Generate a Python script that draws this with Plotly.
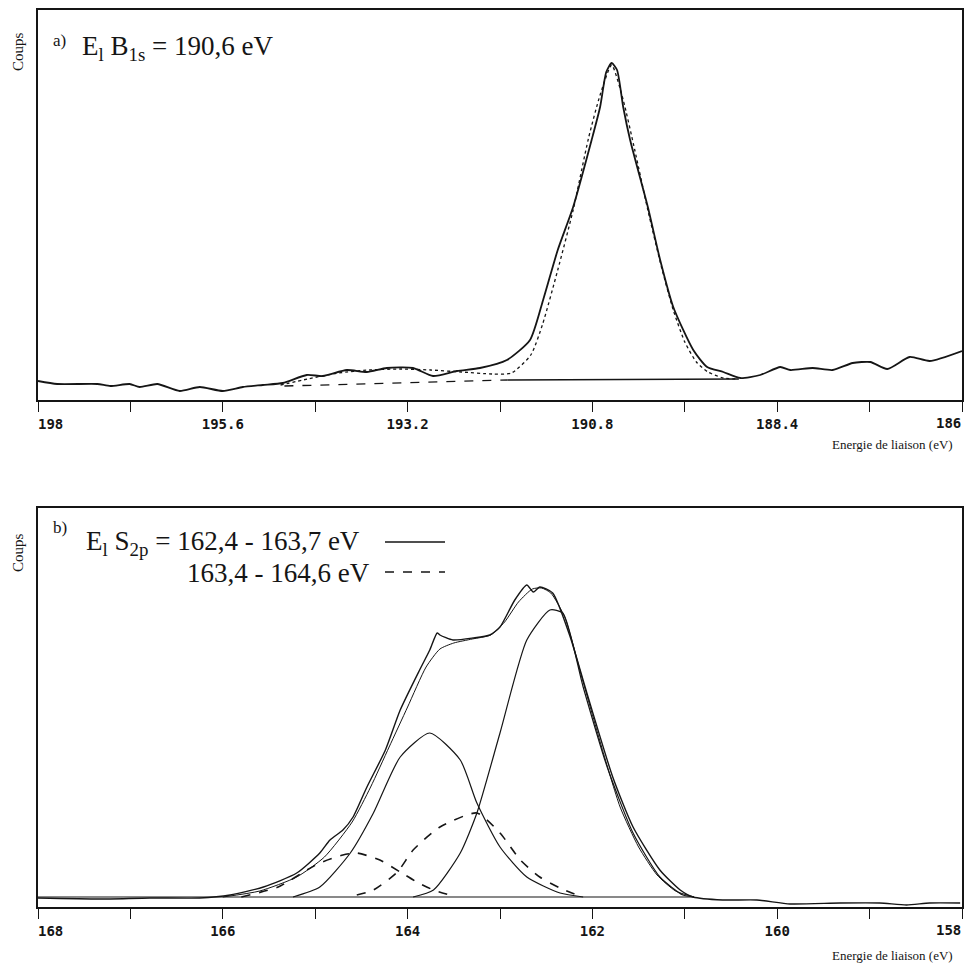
import plotly.graph_objects as go

# ---------------- Panel a : B 1s ----------------
a_raw_ev = [198.0, 197.75, 197.23, 197.06, 196.81, 196.68, 196.45, 196.16, 195.90, 195.60,
            195.34, 195.08, 194.82, 194.51, 194.30, 193.99, 193.73, 193.47, 193.13, 192.87,
            192.56, 192.26, 191.91, 191.61, 191.44, 191.25, 191.05, 190.81, 190.70, 190.62,
            190.55, 190.48, 190.40, 190.31, 190.08, 189.92, 189.75, 189.49, 189.31, 189.10,
            188.88, 188.62, 188.36, 188.23, 187.94, 187.68, 187.42, 187.19, 186.97, 186.68,
            186.42, 186.0]
a_raw_c = [19, 16, 16, 14, 16, 13, 16, 9, 13, 9,
           13, 15, 17, 25, 24, 30, 28, 32, 32, 24,
           29, 32, 40, 60, 100, 150, 193, 260, 293, 328,
           337, 330, 293, 260, 193, 140, 93, 50, 33, 28,
           22, 25, 33, 30, 32, 30, 37, 38, 31, 43,
           39, 49]

a_fit_ev = [194.85, 194.5, 194.1, 193.7, 193.3, 192.9, 192.5, 192.1, 191.85, 191.6,
            191.45, 191.25, 191.05, 190.85, 190.7, 190.55, 190.4, 190.25, 190.08, 189.9,
            189.75, 189.6, 189.45, 189.3, 189.1, 188.9]
a_fit_c = [15, 21, 27, 30, 31, 30, 28, 26, 27, 45,
           75, 130, 190, 262, 305, 335, 300, 250, 190, 132,
           90, 58, 38, 28, 22, 21]

a_bg_dash_ev = [194.8, 191.9]
a_bg_dash_c = [14, 20]
a_bg_solid_ev = [191.9, 188.9]
a_bg_solid_c = [20, 21]

NB = "\u00a0"
a_tick_vals = [198, 196.8, 195.6, 194.4, 193.2, 192.0, 190.8, 189.6, 188.4, 187.2, 186]
a_tick_text = ["198", "", "195.6", "", "193.2", "", "190.8", "", "188.4", "", "186"]

# ---------------- Panel b : S 2p ----------------
b_raw_ev = [168.0, 167.33, 166.79, 166.25, 165.92, 165.56, 165.20, 164.95, 164.84, 164.70,
            164.59, 164.44, 164.24, 164.08, 163.87, 163.76, 163.68, 163.65, 163.51, 163.29,
            163.11, 163.00, 162.84, 162.71, 162.64, 162.57, 162.43, 162.24, 162.06, 161.78,
            161.56, 161.27, 161.05, 160.91, 160.59, 160.22, 159.86, 159.32, 158.89, 158.60,
            158.35, 158.02]
b_raw_c = [9, 8, 9, 9, 12, 20, 34, 54, 67, 77,
           90, 120, 157, 197, 237, 257, 274, 272, 267, 269,
           272, 280, 307, 322, 315, 320, 314, 270, 214, 130,
           80, 37, 17, 10, 7, 7, 3, 4, 4, 2,
           4, 4]

b_fit_ev = [166.0, 165.6, 165.2, 164.9, 164.6, 164.4, 164.2, 164.0, 163.8, 163.65,
            163.5, 163.3, 163.1, 162.95, 162.8, 162.65, 162.55, 162.45, 162.3, 162.1,
            161.9, 161.7, 161.5, 161.3, 161.1, 160.9]
b_fit_c = [10, 16, 30, 50, 85, 120, 160, 200, 240, 258,
           264, 268, 272, 285, 305, 318, 319, 314, 290, 225,
           160, 100, 60, 32, 16, 10]

# solid doublet 162.4 / 163.7 eV
b_s1_ev = [163.94, 163.72, 163.43, 163.25, 163.0, 162.71, 162.46, 162.32, 162.10, 161.84,
           161.56, 161.27, 161.02, 160.9]
b_s1_c = [10, 17, 54, 94, 174, 267, 297, 294, 220, 140,
          74, 30, 12, 10]
b_s2_ev = [165.24, 164.95, 164.62, 164.37, 164.08, 163.76, 163.43, 163.25, 163.0, 162.71,
           162.35, 162.10]
b_s2_c = [10, 20, 54, 94, 150, 174, 147, 104, 60, 30,
          14, 10]

# dashed doublet 163.4 / 164.6 eV
b_d1_ev = [164.55, 164.37, 164.11, 163.94, 163.65, 163.25, 163.0, 162.78, 162.57, 162.35,
           162.17]
b_d1_c = [12, 17, 35, 57, 80, 94, 74, 47, 30, 19,
          12]
b_d2_ev = [165.8, 165.4, 165.09, 164.95, 164.70, 164.55, 164.30, 164.08, 163.90, 163.72,
           163.54]
b_d2_c = [10, 20, 37, 44, 52, 54, 47, 35, 25, 17,
          12]

b_bg_ev = [168.0, 160.9]
b_bg_c = [10, 10]

b_tick_vals = [168, 167, 166, 165, 164, 163, 162, 161, 160, 159, 158]
b_tick_text = ["168", "", "166", "", "164", "", "162", "", "160", "", "158"]

# ---------------- figure ----------------
W, H = 972, 976
INK = "#151515"
SERIF = "Liberation Serif"
MONO = "DejaVu Sans Mono"


def px(x):
    return x / W


def py(y):
    return 1 - y / H


fig = go.Figure()


def add(x, y, xa, ya, dash="solid", width=1.4, shape="spline"):
    fig.add_trace(go.Scatter(x=x, y=y, xaxis=xa, yaxis=ya, mode="lines",
                             line=dict(color=INK, width=width, dash=dash,
                                       shape=shape, smoothing=0.6),
                             hoverinfo="skip", showlegend=False))


# panel a
add(a_bg_dash_ev, a_bg_dash_c, "x", "y", dash="dash", width=1.3, shape="linear")
add(a_bg_solid_ev, a_bg_solid_c, "x", "y", width=1.3, shape="linear")
add(a_fit_ev, a_fit_c, "x", "y", dash="dot", width=1.3)
add(a_raw_ev, a_raw_c, "x", "y", width=1.8)

# panel b
add(b_bg_ev, b_bg_c, "x2", "y2", width=1.2, shape="linear")
add(b_s1_ev, b_s1_c, "x2", "y2", width=1.2)
add(b_s2_ev, b_s2_c, "x2", "y2", width=1.2)
add(b_d1_ev, b_d1_c, "x2", "y2", dash="dash", width=1.6)
add(b_d2_ev, b_d2_c, "x2", "y2", dash="dash", width=1.6)
add(b_fit_ev, b_fit_c, "x2", "y2", width=1.0)
add(b_raw_ev, b_raw_c, "x2", "y2", width=1.4)


# edge labels: the first is padded so it starts at the frame, the last one is
# placed as right-aligned text so it ends at the frame (as in the reference)
def axis_text(labels):
    out = list(labels)
    out[0] = NB * 3 + out[0]
    out[-1] = ""
    return out


tickfont = dict(family=MONO, size=14, color=INK, weight="bold")
common_x = dict(showline=True, mirror=True, linecolor=INK, linewidth=1.8,
                ticks="outside", ticklen=10, tickwidth=1.3, tickcolor=INK,
                showgrid=False, zeroline=False, tickfont=tickfont, tickmode="array",
                ticklabeloverflow="allow", automargin=False, fixedrange=True)
common_y = dict(showline=True, mirror=True, linecolor=INK, linewidth=1.8,
                showticklabels=False, ticks="", showgrid=False, zeroline=False,
                automargin=False, fixedrange=True)

fig.update_layout(
    width=W, height=H,
    margin=dict(l=0, r=0, t=0, b=0, autoexpand=False),
    paper_bgcolor="white", plot_bgcolor="white",
    xaxis=dict(common_x, domain=[px(38), px(962)], range=[198, 186],
               tickvals=a_tick_vals, ticktext=axis_text(a_tick_text), anchor="y"),
    yaxis=dict(common_y, domain=[py(400), py(10)], range=[0, 390], anchor="x"),
    xaxis2=dict(common_x, domain=[px(38), px(962)], range=[168, 158],
                tickvals=b_tick_vals, ticktext=axis_text(b_tick_text), anchor="y2"),
    yaxis2=dict(common_y, domain=[py(907), py(508)], range=[0, 399], anchor="x2"),
)

ann = []


def text(t, x, y, size, xanchor="left", yanchor="middle", angle=0, family=SERIF,
         weight="normal"):
    ann.append(dict(text=t, x=px(x), y=py(y), xref="paper", yref="paper",
                    xanchor=xanchor, yanchor=yanchor, showarrow=False, textangle=angle,
                    font=dict(family=family, size=size, color=INK, weight=weight)))


text("a)", 51, 40, 17)
text("E<sub>l</sub> B<sub>1s</sub> = 190,6 eV", 80, 48, 27)
text("b)", 51, 527, 17)
text("E<sub>l</sub> S<sub>2p</sub> = 162,4 - 163,7 eV", 84, 543, 27)
text("163,4 - 164,6 eV", 372, 573, 27, xanchor="right")
text("Coups", 18, 52, 15, angle=-90, xanchor="center")
text("Coups", 18, 553, 15, angle=-90, xanchor="center")
text("Energie de liaison (eV)", 955, 444, 13, xanchor="right")
text("Energie de liaison (eV)", 955, 955, 13, xanchor="right")
text(a_tick_text[-1], 963, 423, 14, xanchor="right", family=MONO, weight="bold")
text(b_tick_text[-1], 963, 930, 14, xanchor="right", family=MONO, weight="bold")
fig.update_layout(annotations=ann)

fig.add_shape(type="line", xref="paper", yref="paper", x0=px(385), x1=px(445),
              y0=py(542), y1=py(542), line=dict(color=INK, width=1.6))
fig.add_shape(type="line", xref="paper", yref="paper", x0=px(385), x1=px(445),
              y0=py(572), y1=py(572), line=dict(color=INK, width=1.6, dash="dash"))

fig.write_html("out.html", config={"displayModeBar": False},
               post_script="document.body.style.margin='0px';"
                           "document.documentElement.style.overflow='hidden';")
